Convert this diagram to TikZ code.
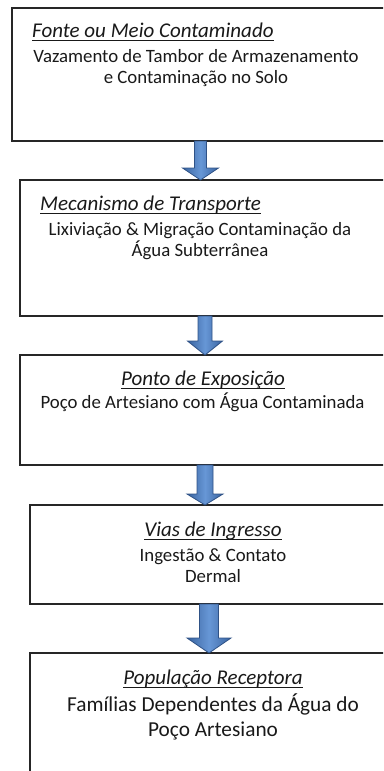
\documentclass[tikz,border=0pt]{standalone}
\usepackage{fontspec}
\setmainfont{Carlito}
\usepackage{tikz}
\usetikzlibrary{calc}
\definecolor{boxline}{HTML}{262626}
\definecolor{arrowdark}{HTML}{3A64A0}
\definecolor{arrowlight}{HTML}{6797D6}
\definecolor{arrowline}{HTML}{2F5286}
\newcommand{\wordul}[1]{\setbox0\hbox{#1}\rlap{\vrule height -2.5pt depth 3.5pt width \wd0}\box0}

\begin{document}
\begin{tikzpicture}[x=1pt, y=-1pt,
 stage/.style={draw=boxline, line width=1.5pt, rectangle, anchor=north west, outer sep=0pt, minimum width=400pt},
 ttl/.style={inner sep=0pt, font=\fontsize{21}{24}\selectfont\itshape, text=black!90},
 txt/.style={inner sep=0pt, align=center, font=\fontsize{18.8}{21}\selectfont, text=black!90},
 blockarrow/.style={draw=arrowline, line width=0.8pt, left color=arrowdark, right color=arrowdark, middle color=arrowlight}]
\useasboundingbox (0,0) rectangle (383,771);
\clip (0,0) rectangle (383,771);
% boxes of the exposure chain
\node[stage, minimum height=133pt] (src) at (12,8)   {};
\node[stage, minimum height=136pt] (mec) at (20,180) {};
\node[stage, minimum height=110pt] (exp) at (20,355) {};
\node[stage, minimum height=99pt]  (via) at (30,505) {};
\node[stage, minimum height=200pt] (pop) at (30,653) {};
% texts (two-line blocks sit on their last line)
\node[ttl, anchor=base west] (srcT) at (32,37.3)   {\wordul{Fonte ou Meio Contaminado}};
\node[txt, anchor=base] (srcB) at (196,83.3)        {Vazamento de Tambor de Armazenamento\\e Contaminação no Solo};
\node[ttl, anchor=base west] (mecT) at (40,210)    {\wordul{Mecanismo de Transporte}};
\node[txt, anchor=base] (mecB) at (200,256)         {Lixiviação \& Migração Contaminação da\\Água Subterrânea};
\node[ttl, anchor=base] (expT) at (203,385.7)       {\wordul{Ponto de Exposição}};
\node[txt, anchor=base] (expB) at (202.5,408)       {Poço de Artesiano com Água Contaminada};
\node[ttl, anchor=base] (viaT) at (213,536.7)       {\wordul{Vias de Ingresso}};
\node[txt, anchor=base] (viaB) at (213,582)         {Ingestão \& Contato\\Dermal};
\node[ttl, anchor=base] (popT) at (213,684)         {\wordul{População Receptora}};
\node[txt, anchor=base, font=\fontsize{21.3}{24.3}\selectfont] (popB) at (213,736) {Famílias Dependentes da Água do\\Poço Artesiano};
% block arrows
\foreach \a/\b/\x/\s/\h/\l in {src/mec/200.5/6/18/12, mec/exp/205/7/17.5/14, exp/via/205/8/18/11, via/pop/209/9.5/22/15} {
  \coordinate (ax) at (\x,0);
  \path[blockarrow] ($(\a.south -| ax)+(-\s,0)$) -- ($(\b.north -| ax)+(-\s,-\l)$) -- ($(\b.north -| ax)+(-\h,-\l)$)
    -- (\b.north -| ax) -- ($(\b.north -| ax)+(\h,-\l)$) -- ($(\b.north -| ax)+(\s,-\l)$) -- ($(\a.south -| ax)+(\s,0)$) -- cycle;
}
\end{tikzpicture}
\end{document}
